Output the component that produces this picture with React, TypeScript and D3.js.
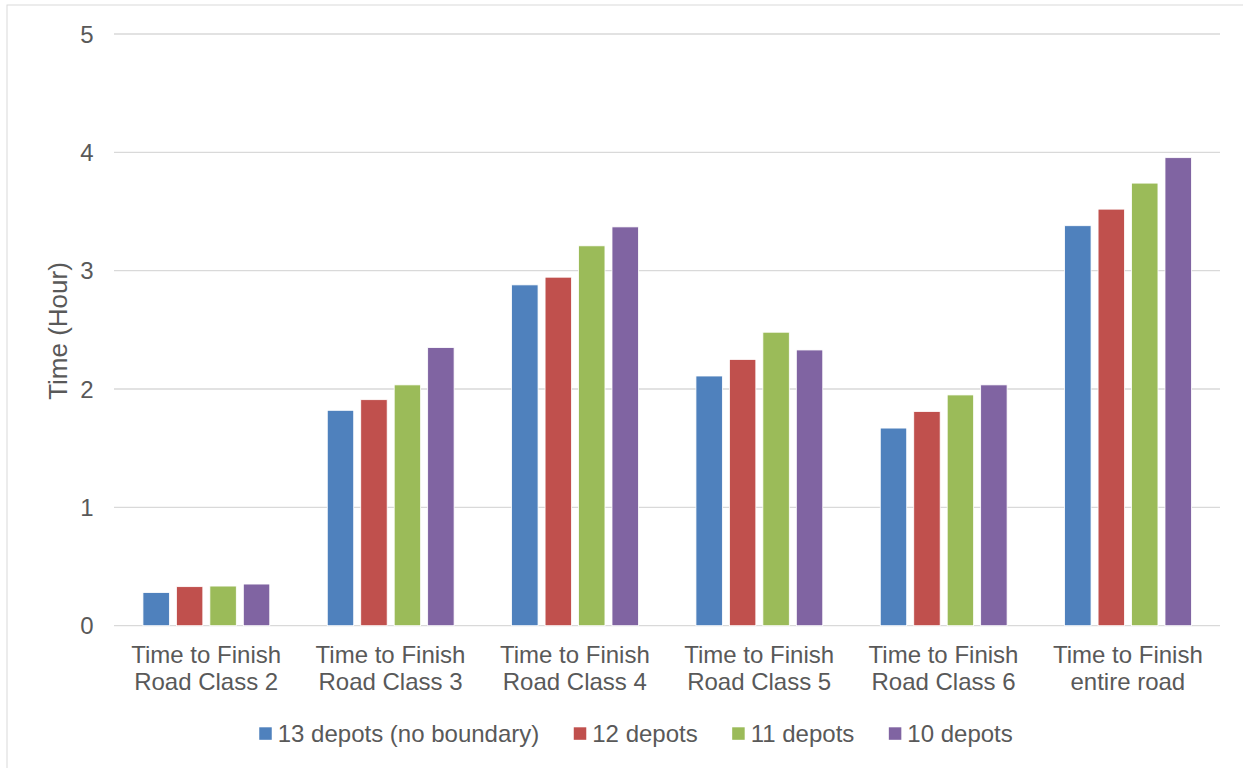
import React from "react";
import * as d3 from "d3";

const categories = [
  ["Time to Finish", "Road Class 2"],
  ["Time to Finish", "Road Class 3"],
  ["Time to Finish", "Road Class 4"],
  ["Time to Finish", "Road Class 5"],
  ["Time to Finish", "Road Class 6"],
  ["Time to Finish", "entire road"],
];

const seriesNames = ["13 depots (no boundary)", "12 depots", "11 depots", "10 depots"];
const seriesColors = ["#4F81BD", "#C0504D", "#9BBB59", "#8064A2"];

const depots13 = [0.28, 1.82, 2.88, 2.11, 1.67, 3.38];
const depots12 = [0.33, 1.91, 2.945, 2.25, 1.81, 3.52];
const depots11 = [0.335, 2.035, 3.21, 2.48, 1.95, 3.74];
const depots10 = [0.352, 2.35, 3.37, 2.33, 2.035, 3.955];

const seriesValues = [depots13, depots12, depots11, depots10];
const yTicks = [0, 1, 2, 3, 4, 5];

const W = 1243;
const H = 768;
const FONT = "'Liberation Sans', Arial, sans-serif";
const TEXT = "#595959";
const GRID = "#d9d9d9";

function measure(text: string, size: number) {
  const c = document.createElement("canvas").getContext("2d");
  if (!c) return text.length * size * 0.5;
  c.font = `${size}px 'Liberation Sans', Arial, sans-serif`;
  return c.measureText(text).width;
}

export default function App() {
  const plotLeft = 114;
  const plotRight = 1220;
  const y = d3.scaleLinear().domain([0, 5]).range([625.7, 34]);
  const keys = categories.map((c) => c.join(" "));
  const x0 = d3.scaleBand<string>().domain(keys).range([plotLeft, plotRight]).padding(0);
  const step = x0.bandwidth();
  const x1 = d3
    .scaleBand<number>()
    .domain(seriesNames.map((_, i) => i))
    .range([step * 0.157, step * 0.845])
    .paddingInner(0.21)
    .paddingOuter(0);

  // legend layout
  const fs = 24;
  const sq = 12.5;
  const sqGap = 6;
  const itemGap = 34.5;
  const widths = seriesNames.map((s) => measure(s, fs));
  const total =
    widths.reduce((a, b) => a + b, 0) + seriesNames.length * (sq + sqGap) + itemGap * (seriesNames.length - 1);
  let lx = 636 - total / 2;
  const legendItems = seriesNames.map((s, i) => {
    const item = { x: lx, name: s, color: seriesColors[i] };
    lx += sq + sqGap + widths[i] + itemGap;
    return item;
  });

  return (
    <svg
      width={W}
      height={H}
      style={{ position: "absolute", left: 0, top: 0, background: "#fff" }}
      fontFamily={FONT}
    >
      <rect x={7} y={5} width={W + 10} height={H + 10} fill="#fff" stroke={GRID} strokeWidth={1} />

      {/* gridlines */}
      {yTicks.map((t) => (
        <line
          key={t}
          x1={plotLeft}
          x2={plotRight}
          y1={y(t)}
          y2={y(t)}
          stroke={GRID}
          strokeWidth={1.3}
        />
      ))}

      {/* y tick labels */}
      {yTicks.map((t) => (
        <text
          key={"t" + t}
          x={93.5}
          y={y(t)}
          textAnchor="end"
          dominantBaseline="central"
          fontSize={fs}
          fill={TEXT}
        >
          {t}
        </text>
      ))}

      {/* y axis title */}
      <text
        transform={`translate(58,331) rotate(-90)`}
        textAnchor="middle"
        dominantBaseline="central"
        fontSize={26}
        fill={TEXT}
      >
        Time (Hour)
      </text>

      {/* bars */}
      {keys.map((k, ci) => (
        <g key={k} transform={`translate(${x0(k)},0)`}>
          {seriesValues.map((vals, si) => (
            <rect
              key={si}
              x={x1(si)}
              y={y(vals[ci])}
              width={x1.bandwidth()}
              height={y(0) - y(vals[ci])}
              fill={seriesColors[si]}
              stroke="#fff"
              strokeWidth={0.8}
            />
          ))}
        </g>
      ))}

      {/* category labels */}
      {categories.map((lines, ci) => (
        <text
          key={"c" + ci}
          x={(x0(keys[ci]) as number) + step / 2}
          textAnchor="middle"
          fontSize={fs}
          fill={TEXT}
        >
          {lines.map((ln, li) => (
            <tspan key={li} x={(x0(keys[ci]) as number) + step / 2} y={662.5 + li * 27.7}>
              {ln}
            </tspan>
          ))}
        </text>
      ))}

      {/* legend */}
      {legendItems.map((it) => (
        <g key={it.name}>
          <rect x={it.x} y={727.3} width={sq} height={sq} fill={it.color} />
          <text x={it.x + sq + sqGap} y={733.5} dominantBaseline="central" fontSize={fs} fill={TEXT}>
            {it.name}
          </text>
        </g>
      ))}
    </svg>
  );
}
